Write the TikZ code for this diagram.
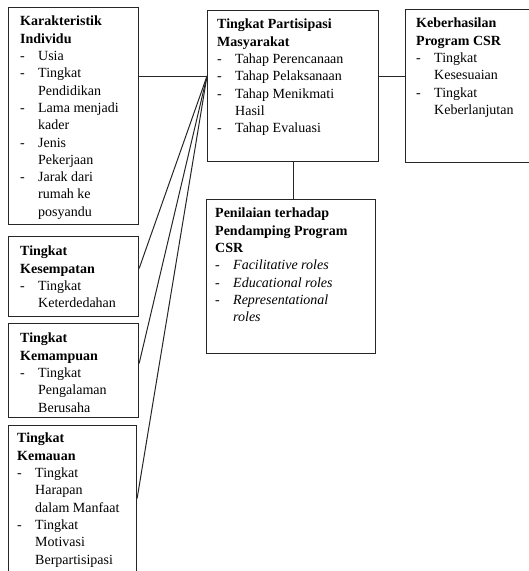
\documentclass[tikz,border=0pt]{standalone}
\usepackage{fontspec}
\setmainfont{Liberation Serif}
\usetikzlibrary{positioning}
\newlength{\jorok}
\setlength{\jorok}{18pt}
\newcommand{\strip}{\makebox[\jorok][l]{-}}
\newcommand{\lanjut}{\hspace*{\jorok}}

\begin{document}
\begin{tikzpicture}[
  x=1pt, y=-1pt,
  kotak/.style={draw=black!85, line width=1.1pt, anchor=north west, inner sep=0pt},
  isi/.style={anchor=north west, inner sep=0pt, align=left,
              font=\fontsize{14}{17.3}\selectfont},
  garis/.style={line width=1pt, black!85}
]
\useasboundingbox (0,0) rectangle (529,571);
\clip (0,0) rectangle (529,571);

% kotak-kotak
\node[kotak, minimum width=130pt, minimum height=217pt] (ind) at (8,7) {};
\node[kotak, minimum width=130pt, minimum height=80pt] (kes) at (8,236) {};
\node[kotak, minimum width=130pt, minimum height=94pt] (kmp) at (8,323) {};
\node[kotak, minimum width=128pt, minimum height=155pt] (kma) at (8,425) {};
\node[kotak, minimum width=171pt, minimum height=151pt] (par) at (207,10) {};
\node[kotak, minimum width=130pt, minimum height=153pt] (keb) at (405,9) {};
\node[kotak, minimum width=169pt, minimum height=154pt] (pen) at (206,199) {};

% isi kotak
\node[isi] (tind) at ([shift={(12,9)}]ind.north west) {%
\textbf{Karakteristik}\\
\textbf{Individu}\\
\strip Usia\\
\strip Tingkat\\
\lanjut Pendidikan\\
\strip Lama menjadi\\
\lanjut kader\\
\strip Jenis\\
\lanjut Pekerjaan\\
\strip Jarak dari\\
\lanjut rumah ke\\
\lanjut posyandu};

\node[isi] (tkes) at ([shift={(12,10)}]kes.north west) {%
\textbf{Tingkat}\\
\textbf{Kesempatan}\\
\strip Tingkat\\
\lanjut Keterdedahan};

\node[isi] (tkmp) at ([shift={(12,10)}]kmp.north west) {%
\textbf{Tingkat}\\
\textbf{Kemampuan}\\
\strip Tingkat\\
\lanjut Pengalaman\\
\lanjut Berusaha};

\node[isi] (tkma) at ([shift={(9,8)}]kma.north west) {%
\textbf{Tingkat}\\
\textbf{Kemauan}\\
\strip Tingkat\\
\lanjut Harapan\\
\lanjut dalam Manfaat\\
\strip Tingkat\\
\lanjut Motivasi\\
\lanjut Berpartisipasi};

\node[isi] (tpar) at ([shift={(10,9)}]par.north west) {%
\textbf{Tingkat Partisipasi}\\
\textbf{Masyarakat}\\
\strip Tahap Perencanaan\\
\strip Tahap Pelaksanaan\\
\strip Tahap Menikmati\\
\lanjut Hasil\\
\strip Tahap Evaluasi};

\node[isi] (tkeb) at ([shift={(11,9)}]keb.north west) {%
\textbf{Keberhasilan}\\
\textbf{Program CSR}\\
\strip Tingkat\\
\lanjut Kesesuaian\\
\strip Tingkat\\
\lanjut Keberlanjutan};

\node[isi] (tpen) at ([shift={(9,9)}]pen.north west) {%
\textbf{Penilaian terhadap}\\
\textbf{Pendamping Program}\\
\textbf{CSR}\\
\strip\textit{Facilitative roles}\\
\strip\textit{Educational roles}\\
\strip\textit{Representational}\\
\lanjut\textit{roles}};

% penghubung
\coordinate (hub) at ([yshift=10pt]par.west);
\draw[garis] (ind.east |- hub) -- (hub);
\draw[garis] (par.east |- hub) -- (keb.west |- hub);
\draw[garis] (par.south) -- (par.south |- pen.north);
\draw[garis] (hub) -- ([yshift=8pt]kes.east);
\draw[garis] (hub) -- ([yshift=7pt]kmp.east);
\draw[garis] (hub) -- ([yshift=4.5pt]kma.east);
\end{tikzpicture}
\end{document}
